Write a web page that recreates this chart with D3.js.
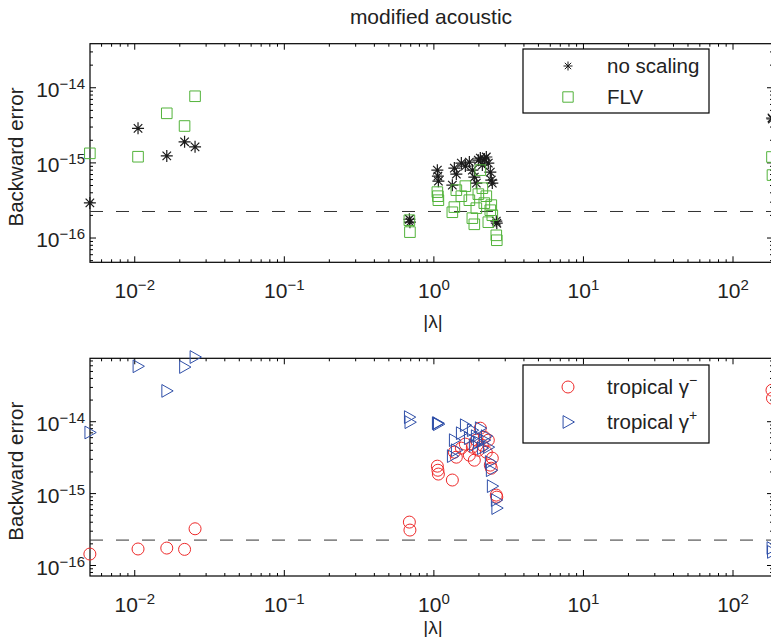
<!DOCTYPE html>
<html><head><meta charset="utf-8">
<script src="https://cdn.jsdelivr.net/npm/d3@7"></script>
<style>body{margin:0;background:#fff;overflow:hidden}</style>
</head><body><svg id="c" width="771" height="637"></svg>
<script>
// |lambda| of each computed eigenvalue
const lambdaAbs = [0.00505, 0.0106, 0.0165, 0.0217, 0.0255, 0.691, 0.697, 1.063, 1.072, 1.080, 1.339, 1.381, 1.424, 1.538, 1.636, 1.740, 1.822, 1.878, 1.937, 1.998, 2.060, 2.125, 2.191, 2.259, 2.330, 2.402, 2.439, 2.477, 2.634, 2.655, 183.6, 185.0];
// backward errors
const noScaling = [2.89e-16, 2.84e-15, 1.22e-15, 1.88e-15, 1.61e-15, 1.75e-16, 1.60e-16, 7.89e-16, 6.56e-16, 5.63e-16, 4.98e-16, 8.39e-16, 6.98e-16, 9.79e-16, 8.93e-16, 1.01e-15, 7.89e-16, 6.37e-16, 5.30e-16, 1.07e-15, 1.14e-15, 9.20e-16, 1.11e-15, 1.18e-15, 9.79e-16, 7.43e-16, 5.81e-16, 5.30e-16, 1.65e-16, 1.55e-16, 3.90e-15, 3.78e-15];
const flv = [1.32e-15, 1.19e-15, 4.50e-15, 3.05e-15, 7.59e-15, 1.70e-16, 1.18e-16, 4.02e-16, 3.55e-16, 3.14e-16, 2.17e-16, 2.54e-16, 4.27e-16, 3.55e-16, 4.83e-16, 3.14e-16, 1.81e-16, 1.50e-16, 2.46e-16, 3.78e-16, 7.89e-16, 4.54e-16, 2.87e-16, 3.55e-16, 1.60e-16, 2.31e-16, 2.70e-16, 1.98e-16, 1.07e-16, 9.2e-17, 1.18e-15, 6.78e-16];
const tropMinus = [1.42e-16, 1.67e-16, 1.72e-16, 1.65e-16, 3.19e-16, 3.95e-16, 3.06e-16, 2.37e-15, 2.08e-15, 1.84e-15, 1.52e-15, 3.71e-15, 3.16e-15, 4.22e-15, 4.80e-15, 3.37e-15, 4.36e-15, 2.87e-15, 5.45e-15, 3.95e-15, 8.0e-15, 4.64e-15, 6.0e-15, 3.71e-15, 5.45e-15, 2.45e-15, 2.22e-15, 3.06e-15, 9.38e-16, 8.80e-16, 2.70e-14, 2.09e-14];
const tropPlus = [6.97e-15, 5.81e-14, 2.64e-14, 5.67e-14, 7.81e-14, 1.14e-14, 9.69e-15, 9.38e-15, 9.38e-15, 9.08e-15, 3.27e-15, 5.45e-15, 3.95e-15, 6.81e-15, 8.79e-15, 5.81e-15, 7.50e-15, 4.64e-15, 6.19e-15, 5.11e-15, 8.0e-15, 4.22e-15, 5.45e-15, 6.19e-15, 4.36e-15, 2.70e-15, 2.08e-15, 1.25e-15, 8.0e-16, 6.19e-16, 1.72e-16, 1.52e-16];
const epsMach = 2.220446049250313e-16;
const xTickExps = [-2, -1, 0, 1, 2];
const yTickExps = [-16, -15, -14];
const xDomain = [0.00506, 186.5];
const yDomainTop = [4.68e-17, 3.80e-14];
const yDomainBottom = [7.03e-17, 7.50e-14];
const titleText = "modified acoustic";
const yLabel = "Backward error";
const xLabel = "|λ|";
const legendTop = ["no scaling", "FLV"];
const legendBottom = [["tropical γ", "−"], ["tropical γ", "+"]];

const FONT = "'Liberation Sans', Arial, Helvetica, sans-serif";
const svg = d3.select("#c").style("font-family", FONT);
const X0 = 90, X1 = 773;
const x = d3.scaleLog().domain(xDomain).range([X0, X1]);

function minorTicks(dom) {
  const out = [];
  const lo = Math.floor(Math.log10(dom[0])), hi = Math.ceil(Math.log10(dom[1]));
  for (let e = lo; e <= hi; e++) for (let m = 2; m <= 9; m++) {
    const v = m * Math.pow(10, e);
    if (v >= dom[0] && v <= dom[1]) out.push(v);
  }
  return out;
}

const colors = {ns: "#1a1a1a", flv: "#52b33a", tm: "#ee2a2a", tp: "#2f4fa8"};

const asterisk = (r) => {
  const d = r * 0.7071;
  return `M${-r},0L${r},0M0,${-r}L0,${r}M${-d},${-d}L${d},${d}M${-d},${d}L${d},${-d}`;
};
const square = (r) => `M${-r},${-r}H${r}V${r}H${-r}Z`;
const circle = (r) => `M${r},0A${r},${r} 0 1,1 ${-r},0A${r},${r} 0 1,1 ${r},0Z`;
const triangle = (r) => `M${-r * 0.85},${-r * 1.1}L${r * 1.1},0L${-r * 0.85},${r * 1.1}Z`;

function sup(sel, base, exp, expSize) {
  sel.text(null);
  sel.append("tspan").text(base);
  sel.append("tspan").attr("dy", -8).attr("font-size", expSize).text(exp);
}

function panel(top, bottom, yDomain, series, legend) {
  const y = d3.scaleLog().domain(yDomain).range([bottom, top]);
  const g = svg.append("g");
  const majorY = yTickExps.map(e => Math.pow(10, e)).filter(v => v >= yDomain[0] && v <= yDomain[1]);
  const majorX = xTickExps.map(e => Math.pow(10, e));
  const minX = minorTicks(xDomain), minY = minorTicks(yDomain);

  const mk = (axis, tr) => {
    const a = g.append("g").attr("transform", tr).call(axis);
    a.select(".domain").remove();
    a.selectAll("line").attr("stroke", "#000").attr("stroke-width", 1);
    return a;
  };
  const bx = mk(d3.axisBottom(x).tickValues(majorX).tickSizeInner(-6).tickSizeOuter(0).tickPadding(21), `translate(0,${bottom})`);
  mk(d3.axisBottom(x).tickValues(minX).tickSizeInner(-3).tickSizeOuter(0).tickFormat(""), `translate(0,${bottom})`);
  mk(d3.axisTop(x).tickValues(majorX).tickSizeInner(-6).tickSizeOuter(0).tickFormat(""), `translate(0,${top})`);
  mk(d3.axisTop(x).tickValues(minX).tickSizeInner(-3).tickSizeOuter(0).tickFormat(""), `translate(0,${top})`);
  const ly = mk(d3.axisLeft(y).tickValues(majorY).tickSizeInner(-6).tickSizeOuter(0).tickPadding(21), `translate(${X0},0)`);
  mk(d3.axisLeft(y).tickValues(minY).tickSizeInner(-3).tickSizeOuter(0).tickFormat(""), `translate(${X0},0)`);
  mk(d3.axisRight(y).tickValues(majorY).tickSizeInner(-6).tickSizeOuter(0).tickFormat(""), `translate(${X1},0)`);
  mk(d3.axisRight(y).tickValues(minY).tickSizeInner(-3).tickSizeOuter(0).tickFormat(""), `translate(${X1},0)`);

  bx.selectAll("text").attr("font-size", 21).attr("font-family", FONT).attr("fill", "#222")
    .attr("dy", "0.71em")
    .each(function(d) { const e = Math.round(Math.log10(d)); sup(d3.select(this), "10", (e < 0 ? "−" : "") + Math.abs(e), 15); });
  ly.selectAll("text").attr("font-size", 21).attr("font-family", FONT).attr("fill", "#222")
    .attr("x", -5).attr("dy", "0.45em").attr("text-anchor", "end")
    .each(function(d) { sup(d3.select(this), "10", "−" + Math.abs(Math.round(Math.log10(d))), 15); });

  g.append("rect").attr("x", X0).attr("y", top).attr("width", X1 - X0).attr("height", bottom - top)
    .attr("fill", "none").attr("stroke", "#000").attr("stroke-width", 1.2);

  g.append("line").attr("x1", X0).attr("x2", X1).attr("y1", y(epsMach)).attr("y2", y(epsMach))
    .attr("stroke", "#333").attr("stroke-width", 1).attr("stroke-dasharray", "13,13");

  series.forEach(s => {
    g.append("g").selectAll("path").data(s.values).join("path")
      .attr("transform", (d, i) => `translate(${x(lambdaAbs[i])},${y(d)})`)
      .attr("d", s.shape(s.r)).attr("fill", "none").attr("stroke", s.color).attr("stroke-width", s.sw);
  });

  const L = legend;
  g.append("rect").attr("x", 523).attr("y", L.top).attr("width", 186).attr("height", L.h)
    .attr("fill", "#fff").attr("stroke", "#000").attr("stroke-width", 1.2);
  series.forEach((s, i) => {
    const ry = L.rows[i];
    g.append("path").attr("transform", `translate(568,${ry})`).attr("d", s.shape(s.lr))
      .attr("fill", "none").attr("stroke", s.color).attr("stroke-width", 1);
    const t = g.append("text").attr("x", 607).attr("y", ry + 7).attr("font-size", 20.5).attr("fill", "#222");
    const lab = L.labels[i];
    if (Array.isArray(lab)) {
      t.append("tspan").text(lab[0]);
      t.append("tspan").attr("dy", -9).attr("font-size", 14).text(lab[1]);
    } else t.text(lab);
  });

  svg.append("text").attr("transform", `translate(23,${(top + bottom) / 2 + 4}) rotate(-90)`)
    .attr("text-anchor", "middle").attr("font-size", 20.5).attr("fill", "#222").text(yLabel);
  return y;
}

panel(43.7, 262.3, yDomainTop, [
  {values: noScaling, color: colors.ns, shape: asterisk, r: 6, lr: 4.5, sw: 1.2},
  {values: flv, color: colors.flv, shape: square, r: 5.3, lr: 5.2, sw: 1}
], {top: 49, h: 64, rows: [66, 97], labels: legendTop});

panel(358.3, 576, yDomainBottom, [
  {values: tropMinus, color: colors.tm, shape: circle, r: 6, lr: 6, sw: 1},
  {values: tropPlus, color: colors.tp, shape: triangle, r: 5.8, lr: 5.8, sw: 1}
], {top: 365, h: 78, rows: [387, 422], labels: legendBottom});

svg.append("text").attr("x", 431).attr("y", 24).attr("text-anchor", "middle")
  .attr("font-size", 21).attr("fill", "#222").text(titleText);
svg.append("text").attr("x", 433).attr("y", 328).attr("text-anchor", "middle")
  .attr("font-size", 19).attr("fill", "#222").text(xLabel);
svg.append("text").attr("x", 433).attr("y", 634).attr("text-anchor", "middle")
  .attr("font-size", 19).attr("fill", "#222").text(xLabel);
</script></body></html>
